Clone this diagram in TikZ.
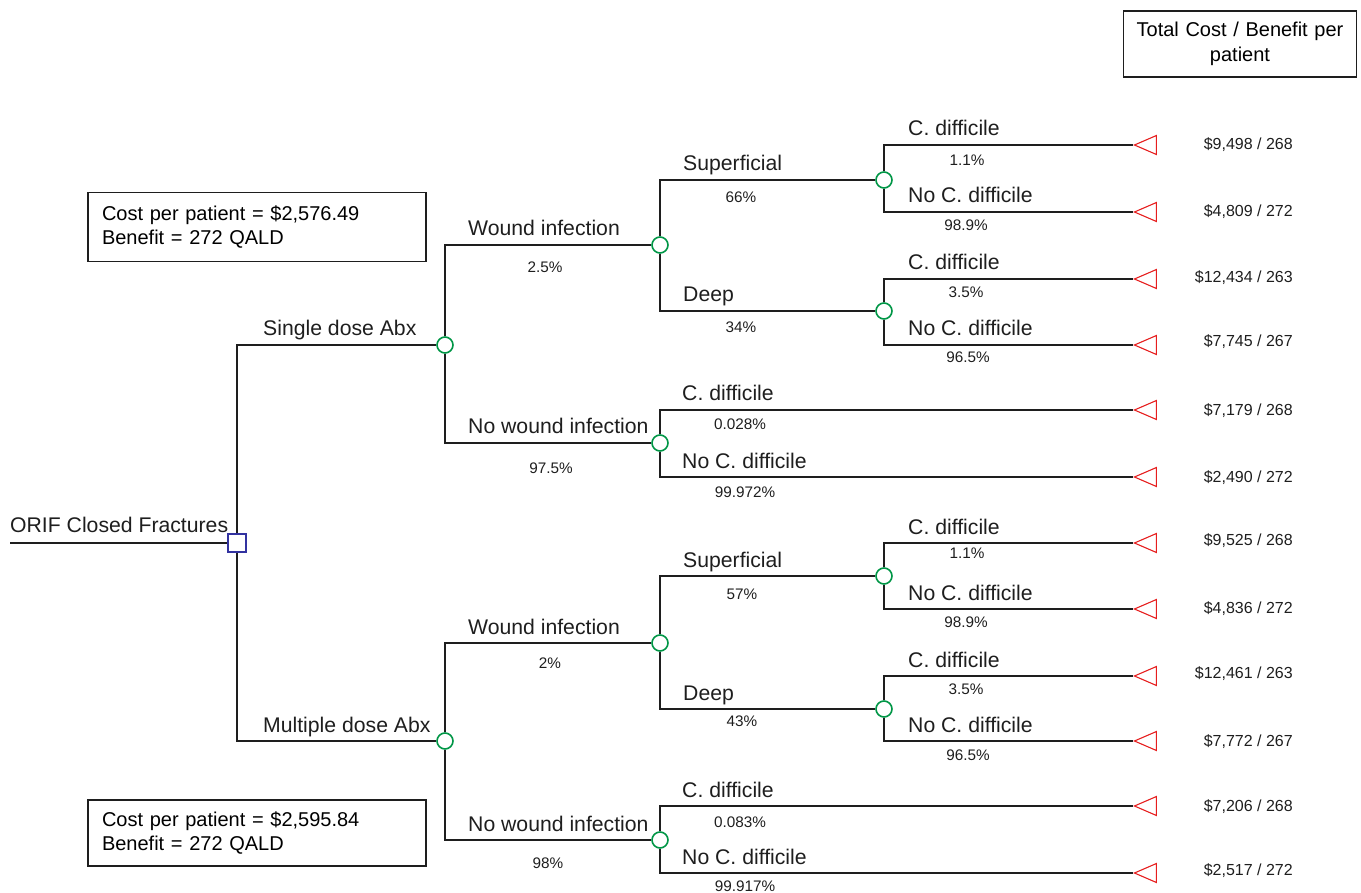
\documentclass[tikz,border=0pt]{standalone}
\usepackage{fontspec}
\setmainfont{Liberation Sans}
\usetikzlibrary{shapes.geometric}
\definecolor{linec}{RGB}{30,30,30}
\definecolor{chancec}{RGB}{0,150,70}
\definecolor{decc}{RGB}{50,50,160}
\definecolor{termc}{RGB}{230,30,30}
\tikzset{
  edge/.style={draw=linec, line width=1.7pt},
  chance/.style={circle, draw=chancec, line width=1.6pt, fill=white, minimum size=16pt, inner sep=0pt},
  decision/.style={rectangle, draw=decc, line width=1.6pt, fill=white, minimum size=18pt, inner sep=0pt},
  term/.style={isosceles triangle, shape border rotate=180, isosceles triangle stretches, draw=termc, line width=1.1pt, minimum width=19pt, minimum height=22pt, inner sep=0pt, anchor=apex},
  blabel/.style={anchor=base west, inner sep=0pt, text=linec, font=\fontsize{21.2}{24}\selectfont},
  plabel/.style={anchor=base, inner sep=0pt, text=linec, font=\fontsize{15.3}{18}\selectfont},
  vlabel/.style={anchor=base east, inner sep=0pt, text=linec, font=\fontsize{16}{19}\selectfont},
  infobox/.style={draw=linec, line width=1.8pt, inner sep=0pt, font=\fontsize{20}{23.5}\selectfont},
}
\begin{document}
\begin{tikzpicture}[x=1pt, y=-1pt]
\useasboundingbox (0,0) rectangle (1361,893);
% nodes
\coordinate (root) at (10,543);
\node[decision] (D) at (237,543) {};
\node[chance] (C1) at (445,345) {};
\node[chance] (C2) at (445,741) {};
\node[chance] (C11) at (660,245) {};
\node[chance] (C12) at (660,443) {};
\node[chance] (C111) at (884,180) {};
\node[chance] (C112) at (884,311) {};
\node[chance] (C21) at (660,643) {};
\node[chance] (C22) at (660,840) {};
\node[chance] (C211) at (884,576) {};
\node[chance] (C212) at (884,709) {};
\node[term] (T1) at (1133,145) {};
\node[term] (T2) at (1133,212) {};
\node[term] (T3) at (1133,279) {};
\node[term] (T4) at (1133,345) {};
\node[term] (T5) at (1133,410) {};
\node[term] (T6) at (1133,477) {};
\node[term] (T7) at (1133,543) {};
\node[term] (T8) at (1133,609) {};
\node[term] (T9) at (1133,676) {};
\node[term] (T10) at (1133,741) {};
\node[term] (T11) at (1133,806) {};
\node[term] (T12) at (1133,873) {};
% connectors
\draw[edge] (root) -- (D);
\draw[edge] (D) |- (C1);
\draw[edge] (D) |- (C2);
\draw[edge] (C1) |- (C11);
\draw[edge] (C1) |- (C12);
\draw[edge] (C11) |- (C111);
\draw[edge] (C11) |- (C112);
\draw[edge] (C111) |- (T1);
\draw[edge] (C111) |- (T2);
\draw[edge] (C112) |- (T3);
\draw[edge] (C112) |- (T4);
\draw[edge] (C12) |- (T5);
\draw[edge] (C12) |- (T6);
\draw[edge] (C2) |- (C21);
\draw[edge] (C2) |- (C22);
\draw[edge] (C21) |- (C211);
\draw[edge] (C21) |- (C212);
\draw[edge] (C211) |- (T7);
\draw[edge] (C211) |- (T8);
\draw[edge] (C212) |- (T9);
\draw[edge] (C212) |- (T10);
\draw[edge] (C22) |- (T11);
\draw[edge] (C22) |- (T12);
% branch labels
\node[blabel] (lroot) at (10,532) {ORIF Closed Fractures};
\node[blabel] (l1) at (263,336) {Single dose Abx};
\node[blabel] (l2) at (263,732) {Multiple dose Abx};
\node[blabel] (l11) at (468,236) {Wound infection};
\node[blabel] (l12) at (468,434) {No wound infection};
\node[blabel] (l21) at (468,634) {Wound infection};
\node[blabel] (l22) at (468,831) {No wound infection};
\node[blabel] (l111) at (683,171) {Superficial};
\node[blabel] (l112) at (683,302) {Deep};
\node[blabel] (l211) at (683,567) {Superficial};
\node[blabel] (l212) at (683,700) {Deep};
\node[blabel] (lt1) at (908,136) {C. difficile};
\node[blabel] (lt2) at (908,203) {No C. difficile};
\node[blabel] (lt3) at (908,270) {C. difficile};
\node[blabel] (lt4) at (908,336) {No C. difficile};
\node[blabel] (lt5) at (682,401) {C. difficile};
\node[blabel] (lt6) at (682,468) {No C. difficile};
\node[blabel] (lt7) at (908,534) {C. difficile};
\node[blabel] (lt8) at (908,600) {No C. difficile};
\node[blabel] (lt9) at (908,667) {C. difficile};
\node[blabel] (lt10) at (908,732) {No C. difficile};
\node[blabel] (lt11) at (682,797) {C. difficile};
\node[blabel] (lt12) at (682,864) {No C. difficile};
% probabilities
\node[plabel] (p11) at (545,273) {2.5\%};
\node[plabel] (p12) at (551,473) {97.5\%};
\node[plabel] (p21) at (550,668) {2\%};
\node[plabel] (p22) at (548,868) {98\%};
\node[plabel] (p111) at (741,203) {66\%};
\node[plabel] (p112) at (741,333) {34\%};
\node[plabel] (p211) at (742,599) {57\%};
\node[plabel] (p212) at (742,726) {43\%};
\node[plabel] (pt1) at (967,166) {1.1\%};
\node[plabel] (pt2) at (966,231) {98.9\%};
\node[plabel] (pt3) at (966,298) {3.5\%};
\node[plabel] (pt4) at (968,363) {96.5\%};
\node[plabel] (pt5) at (740,430) {0.028\%};
\node[plabel] (pt6) at (745,497) {99.972\%};
\node[plabel] (pt7) at (967,558) {1.1\%};
\node[plabel] (pt8) at (966,627) {98.9\%};
\node[plabel] (pt9) at (966,694) {3.5\%};
\node[plabel] (pt10) at (968,760) {96.5\%};
\node[plabel] (pt11) at (740,827) {0.083\%};
\node[plabel] (pt12) at (745,891) {99.917\%};
% values
\node[vlabel] (v1) at (1293,150) {\$9,498 / 268};
\node[vlabel] (v2) at (1293,217) {\$4,809 / 272};
\node[vlabel] (v3) at (1293,283) {\$12,434 / 263};
\node[vlabel] (v4) at (1293,347) {\$7,745 / 267};
\node[vlabel] (v5) at (1293,416) {\$7,179 / 268};
\node[vlabel] (v6) at (1293,482) {\$2,490 / 272};
\node[vlabel] (v7) at (1293,545) {\$9,525 / 268};
\node[vlabel] (v8) at (1293,613) {\$4,836 / 272};
\node[vlabel] (v9) at (1293,678) {\$12,461 / 263};
\node[vlabel] (v10) at (1293,746) {\$7,772 / 267};
\node[vlabel] (v11) at (1293,811) {\$7,206 / 268};
\node[vlabel] (v12) at (1293,875) {\$2,517 / 272};
% boxes
\node[infobox, minimum width=338pt, minimum height=69pt, text width=310pt, align=left] (box1) at (257,227) {Cost per patient = \$2,576.49\\Benefit = 272 QALD};
\node[infobox, minimum width=338pt, minimum height=66pt, text width=310pt, align=left] (box2) at (257,833) {Cost per patient = \$2,595.84\\Benefit = 272 QALD};
\node[infobox, minimum width=233pt, minimum height=66pt, text width=225pt, align=center, font=\fontsize{20}{25}\selectfont] (box3) at (1240,44) {Total Cost / Benefit per\\patient};
\end{tikzpicture}
\end{document}
